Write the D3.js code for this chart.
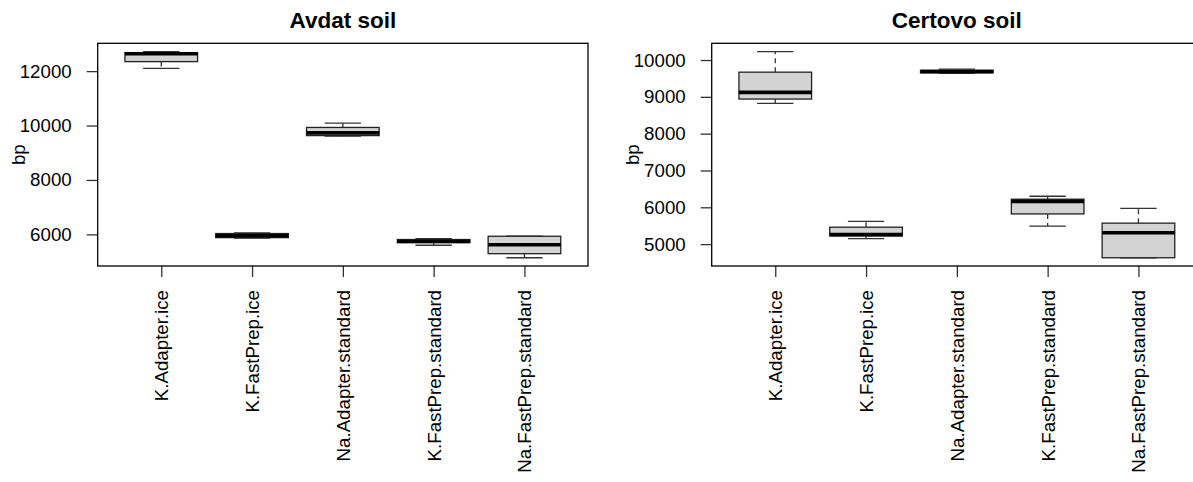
<!DOCTYPE html>
<html>
<head>
<meta charset="utf-8">
<script src="https://cdn.jsdelivr.net/npm/d3@7"></script>
<style>
  html, body { margin: 0; padding: 0; background: #fff; overflow: hidden; }
  svg { display: block; }
</style>
</head>
<body>
<svg width="1193" height="482"></svg>
<script>
// categories shared by both panels
const categories = ['K.Adapter.ice', 'K.FastPrep.ice', 'Na.Adapter.standard',
  'K.FastPrep.standard', 'Na.FastPrep.standard'];

// Avdat soil: whisker low, Q1, median, Q3, whisker high
const avdatLow = [12100, 5860, 9610, 5600, 5140];
const avdatQ1 = [12350, 5880, 9630, 5700, 5290];
const avdatMedian = [12640, 5950, 9730, 5740, 5620];
const avdatQ3 = [12680, 6030, 9930, 5810, 5930];
const avdatHigh = [12720, 6050, 10090, 5840, 5930];
const avdatTicks = [6000, 8000, 10000, 12000];

// Certovo soil
const certovoLow = [8820, 5150, 9640, 5490, 4630];
const certovoQ1 = [8940, 5220, 9650, 5820, 4630];
const certovoMedian = [9120, 5260, 9690, 6160, 5310];
const certovoQ3 = [9670, 5460, 9720, 6220, 5570];
const certovoHigh = [10230, 5620, 9750, 6300, 5970];
const certovoTicks = [5000, 6000, 7000, 8000, 9000, 10000];

const font = '"Liberation Sans", Arial, sans-serif';
const svg = d3.select('svg');

function boxData(low, q1, med, q3, high) {
  return categories.map((c, i) => ({
    i: i + 1, name: c, low: low[i], q1: q1[i], med: med[i], q3: q3[i], high: high[i],
  }));
}

// draws one R-style boxplot panel
function panel(opts) {
  const { left, right, title, data, ticks } = opts;
  const top = 43.3;
  const bottom = 266;

  const x = d3.scaleLinear().domain([0.3, categories.length + 0.7]).range([left, right]);
  const lo = d3.min(data, d => d.low);
  const hi = d3.max(data, d => d.high);
  const pad = (hi - lo) * 0.04;
  const y = d3.scaleLinear().domain([lo - pad, hi + pad]).range([bottom, top]);

  const g = svg.append('g');

  // title
  g.append('text')
    .attr('x', (left + right) / 2)
    .attr('y', 28)
    .attr('text-anchor', 'middle')
    .style('font-family', font)
    .style('font-weight', 'bold')
    .style('font-size', '22.5px')
    .text(title);

  // y axis
  const yAxis = g.append('g')
    .attr('transform', `translate(${left},0)`)
    .call(d3.axisLeft(y).tickValues(ticks).tickSize(11).tickPadding(15).tickFormat(d3.format('d')));
  yAxis.select('.domain').remove();
  yAxis.selectAll('line').attr('stroke', '#333').attr('stroke-width', 1.3);
  yAxis.selectAll('text')
    .attr('fill', '#000')
    .style('font-family', font)
    .style('font-size', '18.7px');

  // x axis
  const xAxis = g.append('g')
    .attr('transform', `translate(0,${bottom})`)
    .call(d3.axisBottom(x).tickValues(d3.range(1, categories.length + 1))
      .tickSize(11).tickFormat(d => categories[d - 1]));
  xAxis.select('.domain').remove();
  xAxis.selectAll('line').attr('stroke', '#333').attr('stroke-width', 1.3);
  xAxis.selectAll('text')
    .attr('transform', 'rotate(-90)')
    .attr('x', -24)
    .attr('y', 0)
    .attr('dy', '0.35em')
    .attr('fill', '#000')
    .style('text-anchor', 'end')
    .style('font-family', font)
    .style('font-size', '18.7px');

  // y label
  g.append('text')
    .attr('transform', `translate(${left - 79},${(top + bottom) / 2}) rotate(-90)`)
    .attr('text-anchor', 'middle')
    .attr('dy', '0.35em')
    .style('font-family', font)
    .style('font-size', '18.7px')
    .text('bp');

  const halfBox = x(1.4) - x(1);
  const halfStaple = halfBox / 2;

  const boxes = g.selectAll('g.box').data(data).enter().append('g').attr('class', 'box');

  // whiskers (dashed)
  boxes.append('line')
    .attr('x1', d => x(d.i)).attr('x2', d => x(d.i))
    .attr('y1', d => y(d.q3)).attr('y2', d => y(d.high))
    .attr('stroke', '#333').attr('stroke-width', 1.3).attr('stroke-dasharray', '5,4');
  boxes.append('line')
    .attr('x1', d => x(d.i)).attr('x2', d => x(d.i))
    .attr('y1', d => y(d.q1)).attr('y2', d => y(d.low))
    .attr('stroke', '#333').attr('stroke-width', 1.3).attr('stroke-dasharray', '5,4');

  // staples
  boxes.append('line')
    .attr('x1', d => x(d.i) - halfStaple).attr('x2', d => x(d.i) + halfStaple)
    .attr('y1', d => y(d.high)).attr('y2', d => y(d.high))
    .attr('stroke', '#333').attr('stroke-width', 1.3);
  boxes.append('line')
    .attr('x1', d => x(d.i) - halfStaple).attr('x2', d => x(d.i) + halfStaple)
    .attr('y1', d => y(d.low)).attr('y2', d => y(d.low))
    .attr('stroke', '#333').attr('stroke-width', 1.3);

  // box
  boxes.append('rect')
    .attr('x', d => x(d.i) - halfBox)
    .attr('width', 2 * halfBox)
    .attr('y', d => y(d.q3))
    .attr('height', d => y(d.q1) - y(d.q3))
    .attr('fill', '#d3d3d3')
    .attr('stroke', '#222')
    .attr('stroke-width', 1.3);

  // median
  boxes.append('line')
    .attr('x1', d => x(d.i) - halfBox).attr('x2', d => x(d.i) + halfBox)
    .attr('y1', d => y(d.med)).attr('y2', d => y(d.med))
    .attr('stroke', '#000').attr('stroke-width', 3.6);

  // frame
  g.append('rect')
    .attr('x', left).attr('y', top)
    .attr('width', right - left).attr('height', bottom - top)
    .attr('fill', 'none')
    .attr('stroke', '#000')
    .attr('stroke-width', 1.3);
}

panel({
  left: 97.7, right: 588, title: 'Avdat soil', ticks: avdatTicks,
  data: boxData(avdatLow, avdatQ1, avdatMedian, avdatQ3, avdatHigh),
});
panel({
  left: 711.7, right: 1202, title: 'Certovo soil', ticks: certovoTicks,
  data: boxData(certovoLow, certovoQ1, certovoMedian, certovoQ3, certovoHigh),
});
</script>
</body>
</html>
